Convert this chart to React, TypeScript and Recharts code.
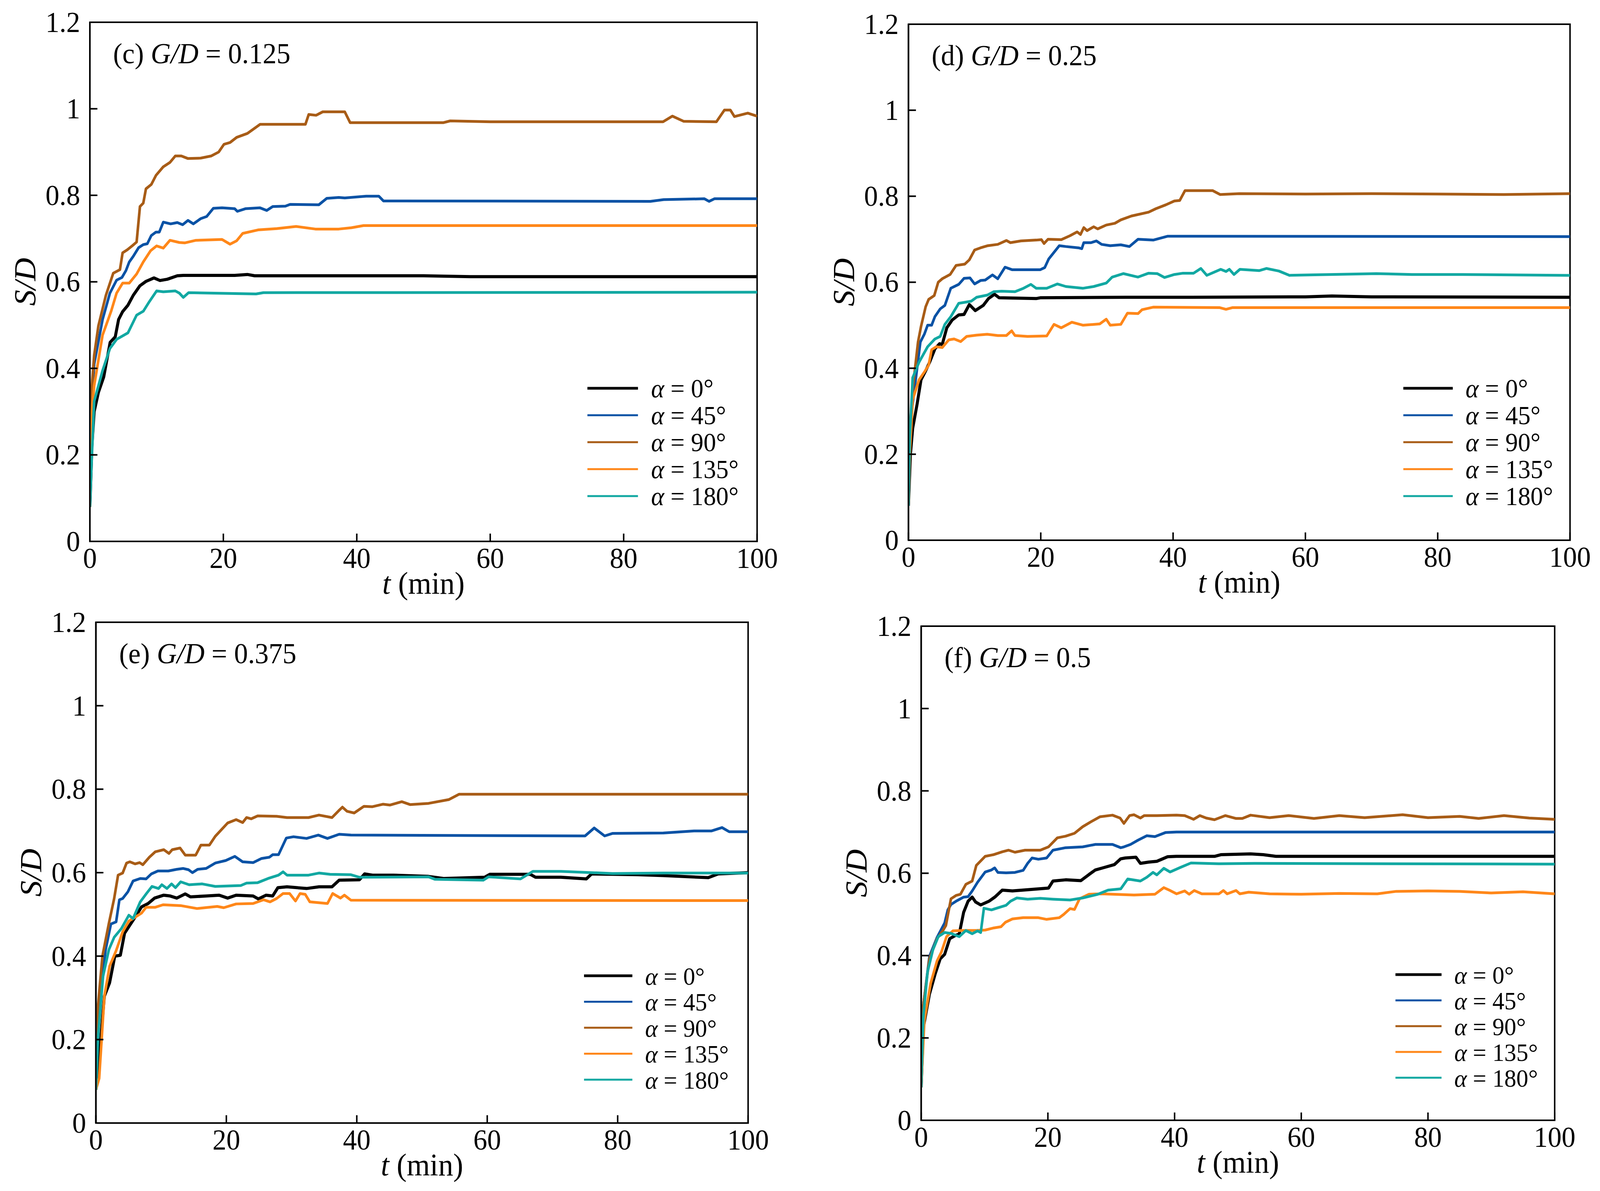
import React from 'react';
import { LineChart, Line, XAxis, YAxis, Legend, Label, ReferenceArea } from 'recharts';

type Pt = [number, number];

const T_TICKS = [0, 20, 40, 60, 80, 100];
const Y_TICKS = [0, 0.2, 0.4, 0.6, 0.8, 1, 1.2];
const ANGLES = ['0', '45', '90', '135', '180'];
const SERIES_NAMES = ANGLES.map((a) => `α = ${a}°`);
const COLORS = ['#000000', '#0a52a5', '#a85c16', '#ff8719', '#12a8a2'];
const GD_LABELS = ['0.125', '0.25', '0.375', '0.5'];
const PANEL_TAGS = ['(c)', '(d)', '(e)', '(f)'];

// ---- (c) G/D = 0.125 ----
const C_A0: Pt[] = [[0,0.08],[0.3,0.22],[0.64,0.3],[1.27,0.344],[2.07,0.38],[3.03,0.46],[3.8,0.473],[4.3,0.513],[4.9,0.531],[5.7,0.546],[6.5,0.569],[7.5,0.591],[8.4,0.601],[9.6,0.609],[10.5,0.603],[11.6,0.606],[13.1,0.614],[14,0.615],[21.7,0.615],[23.6,0.617],[24.7,0.614],[50,0.614],[57,0.612],[100,0.612]];
const C_A45: Pt[] = [[0,0.08],[0.3,0.33],[0.64,0.41],[1.9,0.513],[3,0.574],[4,0.604],[4.8,0.61],[5.4,0.626],[5.9,0.646],[6.5,0.659],[7.3,0.679],[8,0.686],[8.6,0.688],[9.2,0.707],[9.9,0.715],[10.4,0.715],[11,0.738],[12.1,0.734],[13.1,0.737],[13.9,0.732],[14.7,0.742],[15.5,0.734],[16.6,0.746],[17.5,0.751],[18.5,0.77],[19.8,0.771],[21.7,0.769],[22.1,0.763],[23.3,0.769],[25.5,0.771],[26.5,0.765],[27.4,0.774],[29.3,0.775],[30,0.779],[34.3,0.778],[35.5,0.793],[37.3,0.795],[38.2,0.794],[41.4,0.798],[43.3,0.798],[44,0.787],[84,0.786],[86,0.79],[92.1,0.792],[92.8,0.786],[93.6,0.792],[100,0.792]];
const C_A90: Pt[] = [[0,0.08],[0.3,0.36],[0.64,0.43],[1.27,0.498],[2.4,0.569],[3.5,0.62],[4.5,0.628],[4.9,0.667],[5.6,0.674],[6.4,0.684],[7,0.692],[7.5,0.774],[8,0.782],[8.4,0.815],[9.2,0.825],[9.9,0.846],[11,0.866],[12,0.876],[12.8,0.891],[13.7,0.891],[14.7,0.885],[16.6,0.886],[18.2,0.891],[19.3,0.9],[20.1,0.918],[21,0.922],[22,0.934],[23.6,0.943],[24.5,0.953],[25.5,0.964],[32.3,0.964],[32.8,0.987],[33.9,0.985],[34.9,0.993],[38.2,0.993],[39,0.968],[53,0.968],[54,0.972],[60,0.97],[85.9,0.97],[87.3,0.983],[89,0.971],[93.9,0.97],[95.1,0.997],[96,0.997],[96.6,0.982],[98.6,0.99],[100,0.983]];
const C_A135: Pt[] = [[0,0.08],[0.3,0.3],[0.64,0.36],[1.9,0.477],[3.2,0.533],[4,0.574],[4.9,0.597],[5.9,0.597],[7,0.618],[8,0.646],[9.1,0.672],[10,0.683],[11,0.678],[12,0.696],[13.4,0.691],[14.2,0.69],[15.9,0.696],[19.8,0.698],[21,0.687],[22,0.695],[22.9,0.712],[25.2,0.72],[28,0.723],[30.9,0.728],[33.8,0.722],[37.3,0.722],[39.2,0.725],[41,0.73],[100,0.73]];
const C_A180: Pt[] = [[0,0.08],[0.3,0.2],[0.64,0.324],[1.9,0.395],[3,0.446],[4,0.467],[5.7,0.482],[7,0.523],[8,0.532],[8.9,0.554],[10,0.579],[11,0.577],[12.8,0.579],[13.4,0.574],[14,0.564],[14.8,0.575],[24.9,0.572],[26,0.575],[100,0.576]];

// ---- (d) G/D = 0.25 ----
const D_A0: Pt[] = [[0,0.08],[0.3,0.2],[0.64,0.26],[1.3,0.316],[1.9,0.373],[2.6,0.394],[3.2,0.414],[4,0.445],[4.7,0.457],[5.1,0.455],[5.8,0.494],[6.6,0.512],[7.6,0.524],[8.4,0.525],[9.2,0.548],[10.1,0.534],[11.3,0.546],[12.1,0.562],[13,0.572],[13.7,0.564],[19.3,0.562],[20,0.564],[33,0.565],[40,0.565],[60,0.566],[64,0.568],[70,0.566],[100,0.565]];
const D_A45: Pt[] = [[0,0.08],[0.2,0.22],[0.5,0.3],[1.8,0.461],[2.4,0.479],[2.9,0.5],[3.5,0.5],[4,0.52],[4.8,0.538],[5.5,0.546],[6.4,0.586],[7.6,0.595],[8.4,0.609],[9.3,0.61],[10,0.596],[10.9,0.604],[11.6,0.605],[12.7,0.617],[13.5,0.608],[14.6,0.635],[15.7,0.629],[19.9,0.629],[20.6,0.634],[21.2,0.654],[22.8,0.685],[23.8,0.683],[25.7,0.68],[26.2,0.678],[26.5,0.692],[27.6,0.692],[28.4,0.696],[29.2,0.688],[30.5,0.685],[32.1,0.687],[33.4,0.683],[34.7,0.7],[37,0.698],[39.2,0.707],[100,0.706]];
const D_A90: Pt[] = [[0,0.08],[0.2,0.25],[0.64,0.352],[1.45,0.461],[1.9,0.497],[2.6,0.543],[3.05,0.56],[3.9,0.569],[4.5,0.6],[5.1,0.608],[6.3,0.618],[7.2,0.639],[8.5,0.642],[9.2,0.652],[10,0.675],[10.9,0.68],[12,0.685],[13.5,0.688],[14.8,0.697],[15.4,0.692],[17,0.696],[19.3,0.698],[20.1,0.699],[20.5,0.69],[21.1,0.7],[23.1,0.699],[24.4,0.708],[25.5,0.717],[26,0.711],[26.5,0.727],[27,0.72],[28,0.729],[28.6,0.724],[29.9,0.733],[31.2,0.737],[32.1,0.745],[33.7,0.754],[36.3,0.763],[37.4,0.771],[38.9,0.78],[40.2,0.789],[41,0.79],[41.8,0.813],[46,0.813],[47.1,0.804],[50,0.806],[60,0.805],[70,0.806],[80,0.805],[90,0.804],[100,0.806]];
const D_A135: Pt[] = [[0,0.08],[0.2,0.2],[0.64,0.327],[1.6,0.373],[2.4,0.391],[3.05,0.407],[3.5,0.443],[4.2,0.45],[5.1,0.448],[6.1,0.466],[6.9,0.468],[7.9,0.462],[8.8,0.474],[10.3,0.477],[11.9,0.479],[13.5,0.476],[14.8,0.476],[15.6,0.487],[16.1,0.476],[18,0.474],[20.9,0.475],[22,0.502],[23.1,0.494],[24.7,0.507],[26.4,0.5],[28.9,0.503],[29.9,0.514],[30.5,0.5],[32.1,0.502],[33.1,0.528],[34.7,0.527],[35.3,0.536],[37,0.542],[47,0.541],[48,0.537],[49,0.541],[100,0.541]];
const D_A180: Pt[] = [[0,0.08],[0.2,0.24],[0.64,0.378],[1.6,0.414],[2.9,0.45],[4,0.468],[4.8,0.474],[5.5,0.502],[6.4,0.52],[7.6,0.551],[8.4,0.553],[9.5,0.556],[10.3,0.565],[11.9,0.57],[12.9,0.578],[14.1,0.579],[16.1,0.578],[17.4,0.586],[18.5,0.595],[19.3,0.586],[20.9,0.586],[22.5,0.596],[23.8,0.59],[26.4,0.586],[28,0.59],[29.9,0.598],[30.8,0.612],[32.5,0.62],[34.7,0.612],[36.3,0.621],[37.6,0.62],[38.7,0.611],[40.2,0.618],[41.5,0.621],[43.1,0.621],[44.2,0.632],[45.1,0.616],[47.2,0.63],[48,0.625],[48.5,0.63],[49.2,0.618],[50.1,0.63],[53,0.627],[54.1,0.632],[56,0.626],[57.6,0.616],[60.7,0.617],[70.7,0.62],[76.1,0.618],[83.8,0.618],[100,0.616]];

// ---- (e) G/D = 0.375 ----
const E_A0: Pt[] = [[0,0.08],[0.5,0.155],[1.3,0.304],[2.1,0.336],[2.9,0.4],[3.75,0.402],[4.4,0.455],[5.2,0.474],[6,0.493],[7,0.518],[8,0.526],[9,0.539],[10.4,0.546],[11.4,0.544],[12.4,0.539],[13.7,0.549],[14.5,0.542],[16.9,0.544],[18.9,0.546],[20.2,0.539],[21.5,0.546],[24.1,0.544],[24.9,0.537],[26.1,0.546],[27.1,0.544],[27.9,0.564],[29.3,0.566],[32.3,0.562],[34.2,0.566],[36.2,0.566],[37.3,0.582],[40.4,0.583],[41.2,0.597],[42.4,0.594],[45.6,0.594],[51,0.591],[53.3,0.586],[59.6,0.589],[60.4,0.596],[66.6,0.596],[67.4,0.589],[71.3,0.589],[75.2,0.585],[76,0.597],[83.1,0.595],[87,0.593],[93.9,0.588],[95.4,0.597],[100,0.6]];
const E_A45: Pt[] = [[0,0.08],[0.5,0.293],[1.5,0.416],[2.3,0.477],[3.1,0.482],[3.6,0.535],[4.1,0.538],[4.9,0.554],[5.7,0.58],[6.8,0.586],[7.7,0.585],[8.5,0.597],[9.5,0.604],[11.1,0.604],[12.4,0.608],[13.4,0.61],[14.2,0.607],[14.8,0.6],[15.6,0.608],[16.9,0.61],[18.3,0.623],[19.9,0.629],[21.3,0.639],[22.5,0.626],[24.1,0.624],[25.4,0.634],[26.6,0.637],[27.1,0.643],[28,0.643],[29.2,0.683],[30.3,0.686],[32.3,0.682],[34.1,0.69],[35.5,0.682],[37.3,0.692],[39.1,0.69],[75,0.688],[76.4,0.707],[78,0.688],[79.2,0.694],[87,0.695],[91.7,0.7],[94.4,0.7],[96,0.708],[97.1,0.698],[100,0.698]];
const E_A90: Pt[] = [[0,0.08],[0.33,0.282],[1,0.4],[2,0.479],[2.8,0.538],[3.4,0.594],[4.1,0.599],[4.7,0.623],[5.2,0.626],[6,0.621],[6.7,0.624],[7.2,0.619],[8.2,0.637],[9.1,0.65],[10.4,0.655],[11.2,0.646],[11.7,0.655],[12.9,0.659],[13.7,0.642],[15.3,0.642],[16.1,0.666],[17.4,0.666],[18.3,0.687],[20.2,0.719],[21.5,0.727],[22.5,0.72],[23.1,0.732],[23.8,0.729],[24.8,0.736],[27.7,0.735],[29.3,0.732],[32.6,0.732],[34.2,0.738],[36.2,0.732],[37.2,0.748],[37.8,0.757],[38.5,0.747],[39.6,0.743],[41.1,0.759],[42.4,0.758],[44,0.764],[45.1,0.762],[46.9,0.77],[48.2,0.763],[51,0.766],[54.1,0.775],[55.7,0.788],[100,0.788]];
const E_A135: Pt[] = [[0,0.08],[0.5,0.107],[1.3,0.304],[2.1,0.376],[3.1,0.413],[4.1,0.458],[5.05,0.484],[6,0.493],[7,0.503],[7.7,0.517],[9.1,0.517],[10.3,0.523],[13,0.521],[15.5,0.514],[18.6,0.519],[19.6,0.516],[21.5,0.525],[24.1,0.526],[25.7,0.535],[26.7,0.53],[27.7,0.538],[28.7,0.55],[29.7,0.55],[30.6,0.532],[31.3,0.55],[32.1,0.548],[32.8,0.53],[35.5,0.526],[36.3,0.55],[37.5,0.539],[38.1,0.546],[39.1,0.534],[100,0.533]];
const E_A180: Pt[] = [[0,0.08],[0.33,0.208],[1.1,0.352],[2,0.416],[2.8,0.445],[3.9,0.466],[5.05,0.498],[5.7,0.49],[6.8,0.53],[7.8,0.551],[8.6,0.567],[9.6,0.562],[10.1,0.571],[10.9,0.562],[11.6,0.573],[12.2,0.564],[13,0.578],[14.3,0.571],[16.3,0.573],[18.3,0.567],[22.2,0.569],[23.1,0.575],[24.8,0.576],[26.4,0.586],[28,0.594],[28.7,0.602],[29.3,0.594],[32.6,0.594],[34.2,0.599],[35.9,0.596],[39.1,0.595],[40.4,0.589],[51,0.59],[52,0.584],[59.4,0.582],[60.2,0.59],[65.1,0.585],[67,0.603],[71.3,0.603],[79.2,0.598],[87,0.599],[100,0.599]];

// ---- (f) G/D = 0.5 ----
const F_A0: Pt[] = [[0,0.08],[0.34,0.225],[1.3,0.306],[2.2,0.355],[3,0.392],[3.7,0.403],[4.5,0.441],[5.4,0.449],[6,0.452],[6.7,0.505],[7.4,0.532],[8.05,0.542],[8.6,0.53],[9.4,0.523],[10.7,0.532],[11.7,0.543],[12.8,0.559],[14.4,0.557],[16.8,0.56],[20.1,0.564],[20.8,0.581],[22.8,0.584],[25.2,0.582],[26.5,0.597],[27.5,0.608],[28.9,0.614],[30.5,0.621],[31.5,0.635],[32.2,0.637],[33.9,0.639],[34.6,0.624],[35.9,0.627],[37.2,0.629],[38.9,0.64],[40.3,0.641],[46.3,0.641],[47.3,0.645],[52,0.647],[54,0.645],[56,0.641],[100,0.641]];
const F_A45: Pt[] = [[0,0.08],[0.34,0.279],[1.3,0.398],[2.5,0.444],[3.7,0.479],[4.2,0.511],[4.7,0.524],[5.5,0.532],[6.7,0.542],[7.4,0.543],[8.05,0.557],[8.9,0.578],[10.1,0.603],[11.1,0.608],[11.6,0.613],[12.1,0.602],[13.4,0.601],[14.8,0.602],[16.1,0.607],[16.8,0.624],[17.5,0.637],[18.5,0.634],[19.8,0.637],[20.8,0.656],[22.8,0.662],[25.5,0.664],[27.5,0.67],[30.2,0.67],[31.5,0.662],[32,0.664],[33.05,0.67],[34.2,0.68],[35.6,0.691],[36.9,0.689],[38.6,0.699],[40.3,0.7],[100,0.7]];
const F_A90: Pt[] = [[0,0.08],[0.34,0.279],[1.3,0.392],[2.5,0.441],[3.4,0.46],[3.9,0.473],[4.7,0.538],[5.5,0.546],[6.2,0.549],[7.05,0.573],[8.05,0.581],[8.7,0.619],[10.1,0.641],[11.4,0.645],[12.8,0.652],[13.8,0.656],[14.8,0.651],[16.4,0.656],[18.8,0.656],[20.1,0.664],[21.5,0.686],[22.8,0.69],[24.2,0.697],[25.5,0.713],[26.8,0.725],[28.2,0.737],[30.2,0.741],[31.4,0.734],[32,0.721],[32.9,0.74],[33.6,0.742],[34.6,0.734],[35.2,0.74],[37.2,0.74],[40.3,0.741],[41.6,0.74],[43,0.731],[44,0.74],[45,0.734],[46.3,0.73],[48,0.74],[49.7,0.733],[50.7,0.733],[52,0.741],[55,0.735],[58,0.74],[62,0.733],[66,0.74],[70,0.735],[76,0.742],[80,0.735],[85,0.738],[88,0.733],[92,0.74],[96,0.734],[100,0.731]];
const F_A135: Pt[] = [[0,0.08],[0.5,0.242],[1.5,0.333],[2.5,0.387],[3.2,0.409],[4,0.446],[5,0.46],[6.7,0.461],[8.7,0.461],[10.1,0.462],[11.4,0.467],[12.6,0.47],[13.3,0.481],[14.4,0.489],[16.1,0.492],[18.5,0.492],[19.8,0.488],[21.8,0.492],[22.5,0.5],[23.5,0.514],[24.2,0.512],[25,0.538],[26.5,0.549],[28.5,0.55],[30.2,0.549],[33.6,0.547],[36.9,0.549],[38.3,0.565],[39.3,0.558],[40.3,0.55],[41.6,0.557],[42.3,0.549],[43.1,0.558],[44.3,0.55],[47,0.55],[47.7,0.558],[48.3,0.55],[49.7,0.558],[50.3,0.55],[51.7,0.554],[55,0.55],[60,0.549],[66,0.551],[72,0.55],[75,0.556],[80,0.557],[85,0.556],[90,0.552],[95,0.555],[100,0.55]];
const F_A180: Pt[] = [[0,0.08],[0.34,0.252],[1,0.36],[1.85,0.414],[2.7,0.446],[3.7,0.456],[4.7,0.454],[6,0.446],[7.05,0.461],[8.05,0.453],[8.9,0.46],[9.4,0.456],[9.9,0.515],[11.1,0.511],[12.1,0.516],[13.4,0.522],[14.1,0.532],[15.1,0.54],[16.8,0.537],[18.8,0.539],[20.8,0.537],[23.5,0.535],[25.5,0.54],[27.9,0.549],[29.5,0.559],[31.5,0.562],[32.6,0.586],[34.6,0.581],[35.6,0.59],[36.6,0.602],[37.2,0.596],[38.3,0.612],[39.3,0.603],[40.9,0.614],[42.6,0.625],[47,0.623],[52.6,0.624],[100,0.622]];

const PANEL_SERIES: Pt[][][] = [
  [C_A0, C_A45, C_A90, C_A135, C_A180],
  [D_A0, D_A45, D_A90, D_A135, D_A180],
  [E_A0, E_A45, E_A90, E_A135, E_A180],
  [F_A0, F_A45, F_A90, F_A135, F_A180],
];

const FONT = '"Liberation Serif", "Times New Roman", Times, serif';
const PAGE_W = 4271;
const PAGE_H = 3049;

// layout (pixel geometry only)
const LAYOUT = [
  { left: 0, top: 0, width: 2135, height: 1540, mt: 57, mr: 114, yw: 240, xh: 154, legLeft: 1568, legTop: 959, legGap: 69, legLine: 135, legText: 170, legFont: 67 },
  { left: 2135, top: 0, width: 2136, height: 1540, mt: 62, mr: 80, yw: 290, xh: 157, legLeft: 1611, legTop: 959, legGap: 69, legLine: 132, legText: 166, legFont: 67 },
  { left: 0, top: 1520, width: 2135, height: 1529, mt: 73, mr: 138, yw: 256, xh: 174, legLeft: 1559, legTop: 943, legGap: 66.5, legLine: 129, legText: 163, legFont: 64 },
  { left: 2135, top: 1520, width: 2136, height: 1529, mt: 83, mr: 121, yw: 324, xh: 181, legLeft: 1590, legTop: 940, legGap: 66, legLine: 123, legText: 157, legFont: 64 },
];

const toRows = (pts: Pt[]) => pts.map(([t, v]) => ({ t, v }));
const fmt = (v: number) => String(v);

const XTick = (props: any) => {
  const { x, y, payload } = props;
  return (
    <g>
      <line x1={x} x2={x} y1={y} y2={y - 20} stroke="#000" strokeWidth={4} />
      <text x={x} y={y + 68} textAnchor="middle" fontSize={74} fontFamily={FONT} fill="#000">{fmt(payload.value)}</text>
    </g>
  );
};

const YTick = (props: any) => {
  const { x, y, payload } = props;
  return (
    <g>
      <line x1={x} x2={x + 20} y1={y} y2={y} stroke="#000" strokeWidth={4} />
      <text x={x - 26} y={y + 25} textAnchor="end" fontSize={74} fontFamily={FONT} fill="#000">{fmt(payload.value)}</text>
    </g>
  );
};

const XLabel = (props: any) => {
  const vb = props.viewBox || {};
  const cx = vb.x + vb.width / 2;
  return (
    <text x={cx} y={vb.y + 134} textAnchor="middle" fontSize={80} fontFamily={FONT} fill="#000" style={{ whiteSpace: 'pre' }}>
      <tspan fontStyle="italic">t</tspan>
      <tspan> (min)</tspan>
    </text>
  );
};

const YLabel = (props: any) => {
  const vb = props.viewBox || {};
  const px = vb.x + vb.width - 146;
  const cy = vb.y + vb.height / 2;
  return (
    <text x={px} y={cy} transform={`rotate(-90 ${px} ${cy})`} textAnchor="middle" fontSize={82} fontFamily={FONT} fontStyle="italic" fill="#000">
      S/D
    </text>
  );
};

const makeTitle = (i: number) => (props: any) => {
  const vb = props.viewBox || {};
  return (
    <text x={vb.x + 62} y={vb.y + 105} fontSize={74} fontFamily={FONT} fill="#000" style={{ whiteSpace: 'pre' }}>
      <tspan>{PANEL_TAGS[i] + ' '}</tspan>
      <tspan fontStyle="italic">G/D</tspan>
      <tspan>{' = ' + GD_LABELS[i]}</tspan>
    </text>
  );
};

const makeLegend = (L: any) => (props: any) => {
  const payload: any[] = props.payload || [];
  const items = SERIES_NAMES.map((n, k) => {
    const found = payload.find((e: any) => e && e.value === n);
    return { value: n, color: (found && found.color) || COLORS[k] };
  });
  return (
    <svg width={560} height={40 + L.legGap * 5} style={{ display: 'block', overflow: 'visible' }}>
      {items.map((e, k) => {
        const cy = 35 + k * L.legGap;
        const name = e.value;
        return (
          <g key={k}>
            <line x1={0} x2={L.legLine} y1={cy} y2={cy} stroke={e.color} strokeWidth={k === 0 ? 7 : 5} />
            <text x={L.legText} y={cy + 23} fontSize={L.legFont} fontFamily={FONT} fill="#000" style={{ whiteSpace: 'pre' }}>
              <tspan fontStyle="italic">{name.slice(0, 1)}</tspan>
              <tspan>{name.slice(1)}</tspan>
            </text>
          </g>
        );
      })}
    </svg>
  );
};

const Panel = ({ idx }: { idx: number }) => {
  const L = LAYOUT[idx];
  const series = PANEL_SERIES[idx];
  return (
    <div style={{ position: 'absolute', left: L.left, top: L.top, width: L.width, height: L.height }}>
      <LineChart width={L.width} height={L.height} margin={{ top: L.mt, right: L.mr, bottom: 0, left: 0 }}>
        <XAxis
          dataKey="t"
          type="number"
          domain={[0, 100]}
          ticks={T_TICKS}
          interval={0}
          allowDataOverflow
          height={L.xh}
          tickSize={0}
          tickMargin={0}
          tickLine={false}
          axisLine={{ stroke: '#000', strokeWidth: 4 }}
          tick={(p: any) => <XTick {...p} />}
        >
          <Label content={(p: any) => <XLabel {...p} />} />
        </XAxis>
        <YAxis
          type="number"
          domain={[0, 1.2]}
          ticks={Y_TICKS}
          interval={0}
          allowDataOverflow
          width={L.yw}
          tickSize={0}
          tickMargin={0}
          tickLine={false}
          axisLine={{ stroke: '#000', strokeWidth: 4 }}
          tick={(p: any) => <YTick {...p} />}
        >
          <Label content={(p: any) => <YLabel {...p} />} />
        </YAxis>
        <ReferenceArea
          x1={0}
          x2={100}
          y1={0}
          y2={1.2}
          fill="none"
          fillOpacity={0}
          stroke="#000"
          strokeWidth={4}
          strokeOpacity={1}
          ifOverflow="visible"
          label={makeTitle(idx)}
        />
        <Legend
          layout="horizontal"
          verticalAlign="middle"
          align="center"
          content={makeLegend(L)}
          wrapperStyle={{ left: L.legLeft, top: L.legTop, width: 560, margin: 0, lineHeight: 0 }}
        />
        {series.map((s, k) => (
          <Line
            key={k}
            data={toRows(s)}
            dataKey="v"
            name={SERIES_NAMES[k]}
            type="linear"
            stroke={COLORS[k]}
            strokeWidth={k === 0 ? 8 : 7}
            strokeLinejoin="round"
            dot={false}
            activeDot={false}
            isAnimationActive={false}
          />
        ))}
      </LineChart>
    </div>
  );
};

export default function App() {
  // The figure is laid out on a 4271 x 3049 canvas and fitted to the visible viewport.
  const vw = typeof window !== 'undefined' && window.innerWidth ? window.innerWidth : PAGE_W;
  const vh = typeof window !== 'undefined' && window.innerHeight ? window.innerHeight : PAGE_H;
  const sx = vw / PAGE_W;
  const sy = vh / PAGE_H;
  return (
    <div
      style={{
        position: 'fixed',
        left: 0,
        top: 0,
        width: PAGE_W,
        height: PAGE_H,
        transformOrigin: '0 0',
        transform: `scale(${sx}, ${sy})`,
        background: '#fff',
        overflow: 'hidden',
      }}
    >
      {[0, 1, 2, 3].map((i) => (
        <Panel key={i} idx={i} />
      ))}
    </div>
  );
}
